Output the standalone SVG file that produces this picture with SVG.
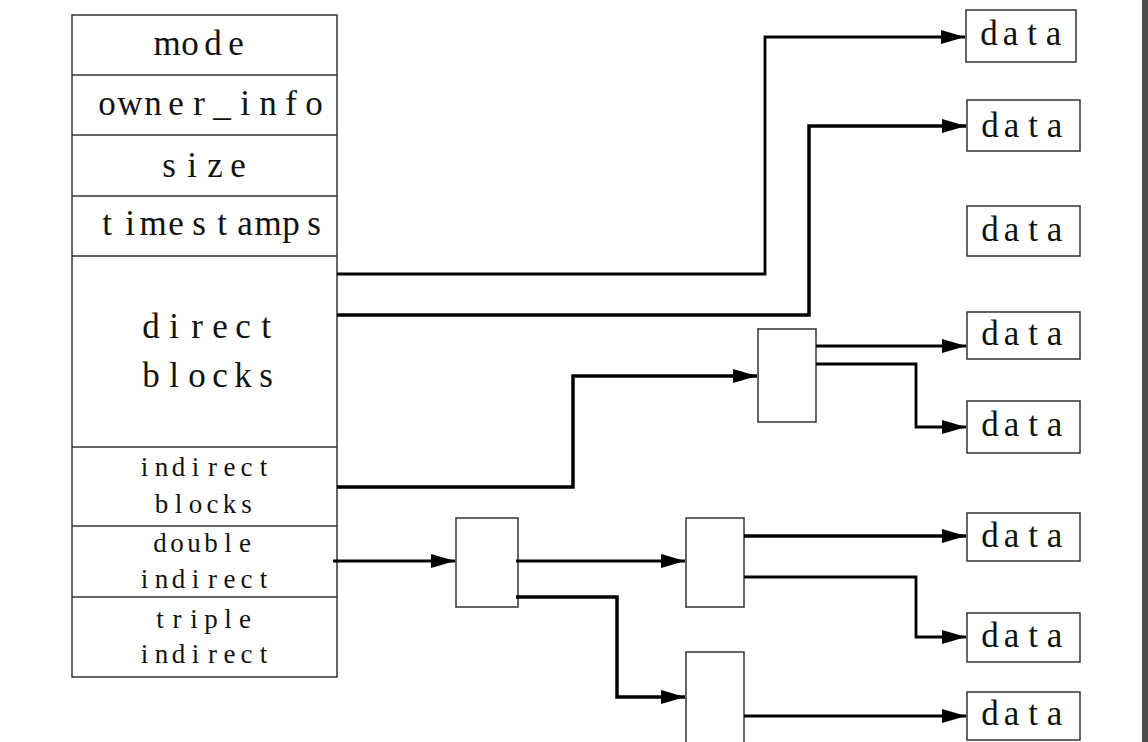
<svg xmlns="http://www.w3.org/2000/svg" width="1148" height="742" viewBox="0 0 1148 742">
<style>
.box{fill:#fff;stroke:#333;stroke-width:1.5}
.t{font-family:"Liberation Serif","DejaVu Serif",serif;font-size:35px;fill:#111;text-anchor:middle}
.s{font-family:"Liberation Serif","DejaVu Serif",serif;font-size:27px;fill:#111;text-anchor:middle}
.c{fill:none;stroke:#000;stroke-width:2.8}
.ck{fill:none;stroke:#000;stroke-width:3.5}
</style>
<defs>
<marker id="ah" markerUnits="userSpaceOnUse" markerWidth="26" markerHeight="16" refX="24" refY="8" orient="auto">
<path d="M0,1 L24,8 L0,15 Z" fill="#000"/>
</marker>
</defs>
<rect x="0" y="0" width="1148" height="742" fill="#fff"/>
<rect x="1142" y="0" width="6" height="742" fill="#4a4c50"/>
<g id="inode">
<rect class="box" x="72" y="15" width="265" height="662"/>
<line class="box" x1="72" y1="75" x2="337" y2="75"/>
<line class="box" x1="72" y1="135" x2="337" y2="135"/>
<line class="box" x1="72" y1="196" x2="337" y2="196"/>
<line class="box" x1="72" y1="256" x2="337" y2="256"/>
<line class="box" x1="72" y1="447" x2="337" y2="447"/>
<line class="box" x1="72" y1="526" x2="337" y2="526"/>
<line class="box" x1="72" y1="597" x2="337" y2="597"/>
<text class="t" x="167 190 213 236" y="55">mode</text>
<text class="t" x="107 130 153 176 199 222 245 268 291 314" y="115">owner_info</text>
<text class="t" x="169 192 215 238" y="177">size</text>
<text class="t" x="107 130 153 176 199 222 245 268 291 314" y="235">timestamps</text>
<text class="t" x="151 174 197 220 243 266" y="338">direct</text>
<text class="t" x="151 174 197 220 243 266" y="387">blocks</text>
<text class="s" x="144.5 161.5 178.5 195.5 212.5 229.5 246.5 263.5" y="476">indirect</text>
<text class="s" x="161.5 178.5 195.5 212.5 229.5 246.5" y="513">blocks</text>
<text class="s" x="160 177 194 211 228 245" y="552">double</text>
<text class="s" x="144.5 161.5 178.5 195.5 212.5 229.5 246.5 263.5" y="588">indirect</text>
<text class="s" x="160 177 194 211 228 245" y="628">triple</text>
<text class="s" x="144.5 161.5 178.5 195.5 212.5 229.5 246.5 263.5" y="663">indirect</text>
</g>
<g id="ind1"><rect class="box" x="758" y="329" width="58" height="93"/></g>
<g id="dbl1"><rect class="box" x="456" y="518" width="62" height="89"/></g>
<g id="dbl2a"><rect class="box" x="686" y="518" width="58" height="89"/></g>
<g id="dbl2b"><rect class="box" x="686" y="652" width="58" height="100"/></g>
<g id="data1"><rect class="box" x="966" y="10" width="110" height="52"/><text class="t" x="989 1010.5 1032 1053.5" y="45">data</text></g>
<g id="data2"><rect class="box" x="967" y="100" width="113" height="51"/><text class="t" x="990 1011.5 1033 1054.5" y="137">data</text></g>
<g id="data3"><rect class="box" x="967" y="206" width="113" height="50"/><text class="t" x="990 1011.5 1033 1054.5" y="241">data</text></g>
<g id="data4"><rect class="box" x="967" y="312" width="113" height="47"/><text class="t" x="990 1011.5 1033 1054.5" y="345">data</text></g>
<g id="data5"><rect class="box" x="967" y="401" width="113" height="52"/><text class="t" x="990 1011.5 1033 1054.5" y="436">data</text></g>
<g id="data6"><rect class="box" x="967" y="513" width="113" height="48"/><text class="t" x="990 1011.5 1033 1054.5" y="547">data</text></g>
<g id="data7"><rect class="box" x="967" y="613" width="113" height="49"/><text class="t" x="990 1011.5 1033 1054.5" y="647">data</text></g>
<g id="data8"><rect class="box" x="967" y="692" width="113" height="48"/><text class="t" x="990 1011.5 1033 1054.5" y="725">data</text></g>
<g id="connectors">
<path class="c" d="M337,274 H765 V37 H965" marker-end="url(#ah)"/>
<path class="ck" d="M337,315 H809 V126 H966" marker-end="url(#ah)"/>
<path class="ck" d="M337,487 H573 V376 H757" marker-end="url(#ah)"/>
<path class="c" d="M816,346 H966" marker-end="url(#ah)"/>
<path class="c" d="M816,364 H916 V427 H966" marker-end="url(#ah)"/>
<path class="c" d="M333,561 H455" marker-end="url(#ah)"/>
<path class="c" d="M516,561 H685" marker-end="url(#ah)"/>
<path class="ck" d="M516,597 H617 V697 H685" marker-end="url(#ah)"/>
<path class="ck" d="M744,536 H966" marker-end="url(#ah)"/>
<path class="c" d="M744,577 H916 V637 H966" marker-end="url(#ah)"/>
<path class="c" d="M744,716 H966" marker-end="url(#ah)"/>
</g>
</svg>
